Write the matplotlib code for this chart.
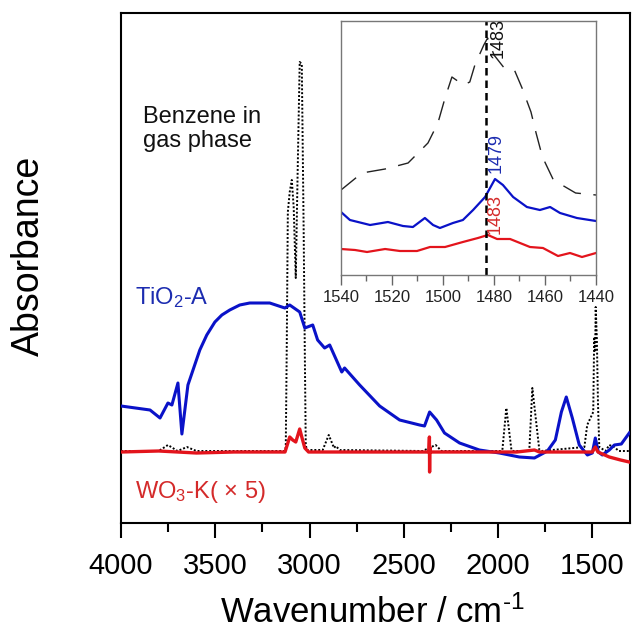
import matplotlib
matplotlib.use("Agg")
import matplotlib.pyplot as plt
from matplotlib.ticker import MultipleLocator

plt.rcParams['font.family'] = ['Liberation Sans', 'DejaVu Sans']
plt.rcParams['mathtext.fontset'] = 'custom'
plt.rcParams['mathtext.rm'] = 'Liberation Sans'
plt.rcParams['mathtext.it'] = 'Liberation Sans:italic'

# ---------------- main spectra ----------------
tio2_wn = [4000, 3846, 3793, 3751, 3730, 3698, 3677, 3645, 3582, 3545, 3502, 3465, 3423,
           3370, 3317, 3211, 3131, 3105, 3052, 3025, 2983, 2957, 2920, 2893, 2829, 2814,
           2734, 2628, 2522, 2416, 2390, 2363, 2326, 2284, 2204, 2099, 1993, 1887, 1807,
           1738, 1696, 1664, 1638, 1606, 1569, 1526, 1500, 1484, 1468, 1447, 1410, 1383,
           1346, 1304]
tio2_abs = [0.46, 0.42, 0.34, 0.49, 0.47, 0.69, 0.18, 0.67, 1.02, 1.17, 1.30, 1.37, 1.42,
            1.47, 1.49, 1.49, 1.44, 1.47, 1.40, 1.24, 1.27, 1.12, 1.04, 1.07, 0.80, 0.84,
            0.67, 0.46, 0.32, 0.27, 0.26, 0.40, 0.32, 0.19, 0.09, 0.02, -0.01, -0.05, -0.06,
            0.01, 0.12, 0.40, 0.55, 0.34, 0.07, -0.03, -0.01, 0.14, 0.00, -0.03, 0.02, 0.07,
            0.08, 0.19]

wo3_wn = [4000, 3800, 3600, 3400, 3130, 3105, 3089, 3073, 3052, 3041, 3025, 3005, 2800,
          2600, 2367, 2364, 2363, 2362, 2359, 2100, 1900, 1807, 1780, 1600, 1500, 1484,
          1470, 1410, 1350, 1304]
wo3_abs = [0.0, 0.01, -0.01, 0.0, 0.0, 0.15, 0.12, 0.10, 0.23, 0.15, 0.04, 0.0, 0.0,
           0.0, 0.0, 0.15, -0.20, 0.05, 0.0, 0.0, 0.0, 0.02, 0.0, 0.0, 0.0, 0.05,
           0.0, -0.05, -0.08, -0.10]

benz_wn = [4000, 3800, 3751, 3700, 3650, 3600, 3131, 3126, 3121, 3115, 3105, 3094, 3084,
           3073, 3063, 3052, 3041, 3031, 3025, 3020, 3015, 2930, 2898, 2870, 2861, 2840,
           2400, 2331, 2300, 1985, 1977, 1956, 1929, 1920, 1840, 1834, 1818, 1781, 1770,
           1542, 1527, 1495, 1490, 1485, 1482, 1476, 1470, 1463, 1430, 1410, 1383, 1360, 1304]
benz_abs = [0.01, 0.01, 0.07, 0.01, 0.05, 0.01, 0.01, 0.05, 1.0, 2.4, 2.6, 2.72, 2.45,
            1.74, 2.8, 3.90, 3.88, 2.2, 1.0, 0.08, 0.02, 0.02, 0.17, 0.04, 0.06, 0.02,
            0.01, 0.07, 0.01, 0.01, 0.02, 0.44, 0.02, 0.01, 0.01, 0.02, 0.64, 0.02, 0.01,
            0.05, 0.27, 0.4, 1.15, 1.0, 1.45, 1.15, 0.5, 0.05, 0.01, 0.07, 0.05, 0.01, 0.01]

# ---------------- inset spectra (1540-1440) ----------------
ins_benz_wn = [1540, 1531.8, 1522.7, 1513.7, 1505.9, 1502, 1499.2, 1496.5, 1492, 1489.5,
               1487.5, 1484, 1482.5, 1480, 1476, 1472, 1469, 1465.5, 1463.5, 1461, 1456.7,
               1448, 1440]
ins_benz_abs = [0.85, 1.02, 1.06, 1.12, 1.32, 1.52, 1.77, 1.98, 1.90, 1.93,
                2.10, 2.30, 2.37, 2.20, 2.07, 2.05, 1.87, 1.63, 1.42, 1.18, 0.95,
                0.82, 0.80]
ins_tio2_wn = [1540, 1536.5, 1528.6, 1521.6, 1515.7, 1511.8, 1507.1, 1503.9, 1501.2, 1496.1,
               1492.2, 1488.2, 1483.5, 1479.6, 1476.5, 1472.5, 1467.1, 1462, 1458, 1454.1,
               1447.5, 1440]
ins_tio2_abs = [0.63, 0.55, 0.50, 0.53, 0.49, 0.48, 0.57, 0.50, 0.47, 0.52,
                0.55, 0.65, 0.78, 0.96, 0.90, 0.78, 0.68, 0.65, 0.68, 0.62,
                0.57, 0.54]
ins_wo3_wn = [1540, 1534.5, 1529.8, 1522.7, 1516.9, 1510.2, 1505.1, 1499.2, 1492.2, 1486.3,
              1482.4, 1478.8, 1473.7, 1465.9, 1460.8, 1454.9, 1450.2, 1445.5, 1440]
ins_wo3_abs = [0.26, 0.25, 0.23, 0.26, 0.24, 0.24, 0.28, 0.28, 0.33, 0.37,
               0.40, 0.36, 0.36, 0.28, 0.27, 0.19, 0.22, 0.18, 0.22]

main_ticks = [4000, 3500, 3000, 2500, 2000, 1500]
inset_ticks = [1540, 1520, 1500, 1480, 1460, 1440]
marker_line = 1483

BLUE = '#0a12c8'
RED = '#e3141c'

fig = plt.figure(figsize=(6.33, 6.30), dpi=100)
ax = fig.add_axes([121/633, 1 - 523/630, 509/633, 510/630])

ax.plot(benz_wn, benz_abs, color='black', ls=(0, (1, 1)), lw=1.4, zorder=2)
ax.plot(tio2_wn, tio2_abs, color=BLUE, lw=2.2, zorder=3)
ax.plot(wo3_wn, wo3_abs, color=RED, lw=2.4, zorder=4)

ax.set_xlim(4000, 1300)
ax.set_ylim(-0.71, 4.39)
ax.set_yticks([])
ax.set_xticks(main_ticks)
ax.xaxis.set_minor_locator(MultipleLocator(250))
ax.tick_params(axis='x', which='major', direction='out', length=11, width=1.5,
               labelsize=21, pad=10)
ax.tick_params(axis='x', which='minor', direction='out', length=6.5, width=1.5)
for s in ax.spines.values():
    s.set_linewidth(1.5)
    s.set_color('black')

fig.text(372/633, 1 - 623/630, r'Wavenumber / cm$^{\text{-1}}$', fontsize=25,
         ha='center', va='baseline')
fig.text(29/633, 1 - 256/630, 'Absorbance', fontsize=27, rotation=90,
         ha='center', va='center')

ax.text(0.043, 0.773, 'Benzene in\ngas phase', transform=ax.transAxes, fontsize=17,
        color='#111111', va='center', ha='left', linespacing=1.1)
ax.text(0.028, 0.443, r'TiO$_{\mathregular{2}}$-A', transform=ax.transAxes, fontsize=17,
        color='#1c2cb0', va='center', ha='left')
ax.text(0.028, 0.06, r'WO$_{\mathregular{3}}$-K( × 5)', transform=ax.transAxes,
        fontsize=17, color='#d42a2a', va='center', ha='left')

# ---------------- inset ----------------
ins = fig.add_axes([341/633, 1 - 275/630, 255/633, 254/630])
ins.plot(ins_benz_wn, ins_benz_abs, color='#222222', lw=1.0, ls=(0, (14, 9)))
ins.plot(ins_tio2_wn, ins_tio2_abs, color=BLUE, lw=1.6)
ins.plot(ins_wo3_wn, ins_wo3_abs, color=RED, lw=1.6)
ins.axvline(marker_line, color='black', lw=1.8, ls=(0, (3, 2)))
ins.set_xlim(1540, 1440)
ins.set_ylim(0, 2.54)
ins.set_yticks([])
ins.set_xticks(inset_ticks)
ins.xaxis.set_minor_locator(MultipleLocator(10))
ins.tick_params(axis='x', which='major', direction='out', length=7, width=1,
                color='#666666', labelsize=12, labelcolor='#222222', pad=4)
ins.tick_params(axis='x', which='minor', direction='out', length=4, width=1, color='#666666')
for s in ins.spines.values():
    s.set_linewidth(1.0)
    s.set_color('#777777')

ins.text(1478.5, 2.37, '1483', rotation=90, fontsize=13, color='#111111', ha='center', va='center')
ins.text(1479.0, 1.22, '1479', rotation=90, fontsize=13, color='#1c2cb0', ha='center', va='center')
ins.text(1479.5, 0.61, '1483', rotation=90, fontsize=13, color='#d42a2a', ha='center', va='center')

fig.savefig('out.png', dpi=100)
